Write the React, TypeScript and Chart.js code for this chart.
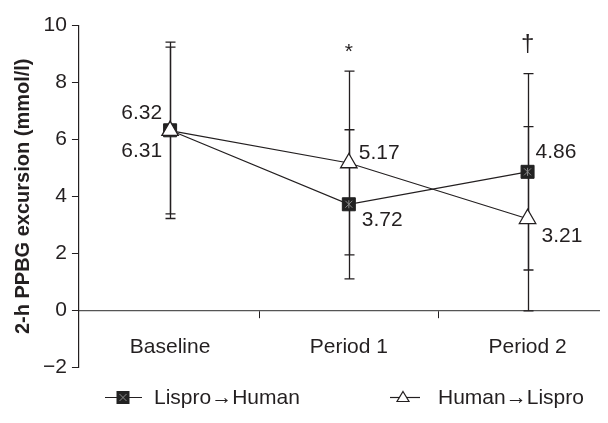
import React, { useEffect, useRef } from 'react';
import { Chart, registerables } from 'chart.js';

Chart.register(...registerables);

// ---- data ----
const categories = ['Baseline', 'Period 1', 'Period 2'];
const seriesNames = ['Lispro→Human', 'Human→Lispro'];
const lisproHumanMean = [6.32, 3.72, 4.86];
const lisproHumanSD = [3.1, 2.62, 3.45];
const humanLisproMean = [6.31, 5.17, 3.21];
const humanLisproSD = [2.93, 3.23, 3.24];
const significanceMarks = ['', '*', '†'];
const yTickValues = [-2, 0, 2, 4, 6, 8, 10];
const yTitle = '2-h PPBG excursion (mmol/l)';

// ---- style ----
const INK = '#231f20';
const FONT = '"Liberation Sans", Arial, Helvetica, sans-serif';
// label offsets [dx, dy, align] per series per category
const lisproLabelPos: [number, number, CanvasTextAlign][] = [[-8, -17, 'right'], [13, 16, 'left'], [8, -20, 'left']];
const humanLabelPos: [number, number, CanvasTextAlign][] = [[-8, 21, 'right'], [10, -10, 'left'], [14, 17, 'left']];
const markOffsets = [0, -13, -23];
const markSizes = [21, 21, 24];

const overlay = {
  id: 'overlay',
  beforeDatasetsDraw(chart: any) {
    const { ctx } = chart;
    const xs = chart.scales.x;
    const ys = chart.scales.y;
    ctx.save();
    ctx.strokeStyle = INK;
    ctx.lineWidth = 1.3;
    const series: [number[], number[]][] = [
      [lisproHumanMean, lisproHumanSD],
      [humanLisproMean, humanLisproSD],
    ];
    series.forEach(([m, s]) => {
      m.forEach((v, i) => {
        const px = Math.round(xs.getPixelForValue(i)) + 0.5;
        const top = ys.getPixelForValue(v + s[i]);
        const bot = ys.getPixelForValue(v - s[i]);
        ctx.beginPath();
        ctx.moveTo(px, top);
        ctx.lineTo(px, bot);
        ctx.moveTo(px - 5, top);
        ctx.lineTo(px + 5, top);
        ctx.moveTo(px - 5, bot);
        ctx.lineTo(px + 5, bot);
        ctx.stroke();
      });
    });
    ctx.restore();
  },
  afterDatasetDraw(chart: any, args: any) {
    // gray cross inside the black squares
    if (args.index !== 1) return;
    const { ctx } = chart;
    const meta = chart.getDatasetMeta(1);
    ctx.save();
    ctx.strokeStyle = '#8a8a8a';
    ctx.lineWidth = 1;
    meta.data.forEach((pt: any) => {
      const { x, y } = pt.getProps(['x', 'y'], true);
      ctx.beginPath();
      ctx.moveTo(x - 3.5, y - 3.5);
      ctx.lineTo(x + 3.5, y + 3.5);
      ctx.moveTo(x + 3.5, y - 3.5);
      ctx.lineTo(x - 3.5, y + 3.5);
      ctx.moveTo(x, y - 4);
      ctx.lineTo(x, y + 4);
      ctx.stroke();
    });
    ctx.restore();
  },
  afterDraw(chart: any) {
    const { ctx } = chart;
    const xs = chart.scales.x;
    const ys = chart.scales.y;
    ctx.save();
    ctx.fillStyle = INK;
    ctx.font = `21px ${FONT}`;
    ctx.textBaseline = 'middle';
    lisproHumanMean.forEach((v, i) => {
      const [dx, dy, al] = lisproLabelPos[i];
      ctx.textAlign = al;
      ctx.fillText(v.toFixed(2), xs.getPixelForValue(i) + dx, ys.getPixelForValue(v) + dy);
    });
    humanLisproMean.forEach((v, i) => {
      const [dx, dy, al] = humanLabelPos[i];
      ctx.textAlign = al;
      ctx.fillText(v.toFixed(2), xs.getPixelForValue(i) + dx, ys.getPixelForValue(v) + dy);
    });
    // significance marks above the highest error bar
    ctx.textAlign = 'center';
    ctx.textBaseline = 'alphabetic';
    significanceMarks.forEach((m, i) => {
      if (!m) return;
      ctx.font = `${markSizes[i]}px ${FONT}`;
      const topVal = Math.max(lisproHumanMean[i] + lisproHumanSD[i], humanLisproMean[i] + humanLisproSD[i]);
      ctx.fillText(m, xs.getPixelForValue(i), ys.getPixelForValue(topVal) + markOffsets[i]);
    });

    // legend
    ctx.font = `21px ${FONT}`;
    const ly = 389.5;
    ctx.strokeStyle = INK;
    ctx.lineWidth = 1.2;
    ctx.textAlign = 'left';
    ctx.textBaseline = 'middle';
    // series 1
    ctx.beginPath();
    ctx.moveTo(97, ly);
    ctx.lineTo(134, ly);
    ctx.stroke();
    ctx.fillStyle = '#222';
    ctx.fillRect(108.5, ly - 6.5, 13, 13);
    ctx.strokeStyle = '#8a8a8a';
    ctx.lineWidth = 1;
    ctx.beginPath();
    ctx.moveTo(111.5, ly - 3.5);
    ctx.lineTo(118.5, ly + 3.5);
    ctx.moveTo(118.5, ly - 3.5);
    ctx.lineTo(111.5, ly + 3.5);
    ctx.stroke();
    ctx.fillStyle = INK;
    ctx.fillText(seriesNames[0], 146, ly + 1);
    // series 2
    ctx.strokeStyle = INK;
    ctx.lineWidth = 1.2;
    ctx.beginPath();
    ctx.moveTo(382, ly);
    ctx.lineTo(412, ly);
    ctx.stroke();
    ctx.beginPath();
    ctx.moveTo(395, ly - 6);
    ctx.lineTo(401, ly + 4);
    ctx.lineTo(389, ly + 4);
    ctx.closePath();
    ctx.fillStyle = '#fff';
    ctx.fill();
    ctx.stroke();
    ctx.fillStyle = INK;
    ctx.fillText(seriesNames[1], 430, ly + 1);
    ctx.restore();
  },
};

export default function App() {
  const ref = useRef<HTMLCanvasElement>(null);
  useEffect(() => {
    if (!ref.current) return;
    const chart = new Chart(ref.current, {
      type: 'line',
      data: {
        datasets: [
          {
            label: seriesNames[1],
            data: humanLisproMean.map((v, i) => ({ x: i, y: v })),
            borderColor: INK,
            borderWidth: 1.2,
            pointStyle: 'triangle',
            pointRadius: 9.5,
            pointBackgroundColor: '#fff',
            pointBorderColor: INK,
            pointBorderWidth: 1.3,
          },
          {
            label: seriesNames[0],
            data: lisproHumanMean.map((v, i) => ({ x: i, y: v })),
            borderColor: INK,
            borderWidth: 1.2,
            pointStyle: 'rect',
            pointRadius: 9.2,
            pointBackgroundColor: '#222',
            pointBorderColor: '#222',
            pointBorderWidth: 1,
          },
        ],
      },
      options: {
        animation: false,
        responsive: true,
        maintainAspectRatio: false,
        layout: { autoPadding: false, padding: { top: 13, bottom: 48, left: 0, right: 0 } },
        plugins: { legend: { display: false }, tooltip: { enabled: false } },
        scales: {
          x: {
            type: 'linear',
            min: -0.51,
            max: 2.45,
            position: { y: 0 } as any,
            afterBuildTicks: (s: any) => {
              s.ticks = [0, 0.5, 1, 1.5, 2].map((v) => ({ value: v }));
            },
            afterFit: (s: any) => {
              s.paddingLeft = 0;
              s.paddingRight = 0;
            },
            ticks: {
              autoSkip: false,
              maxRotation: 0,
              padding: 18,
              color: INK,
              font: { family: FONT, size: 21 },
              callback: (v: any) => (Number.isInteger(v) ? categories[v] : ''),
            },
            grid: {
              drawOnChartArea: false,
              tickLength: 7,
              tickColor: (c: any) =>
                c.tick && !Number.isInteger(c.tick.value) ? INK : 'rgba(0,0,0,0)',
            },
            border: { color: '#555', width: 1.2 },
          },
          y: {
            min: -2,
            max: 10,
            afterBuildTicks: (s: any) => {
              s.ticks = yTickValues.map((v) => ({ value: v }));
            },
            ticks: {
              padding: 5,
              color: INK,
              font: { family: FONT, size: 21 },
              callback: (v: any) => (v < 0 ? '\u2212' + Math.abs(v) : String(v)),
            },
            grid: { drawOnChartArea: false, tickLength: 7, tickColor: INK },
            border: { color: INK, width: 1.2 },
            title: {
              display: true,
              text: yTitle,
              color: INK,
              font: { family: FONT, size: 20, weight: 'bold' },
              padding: { top: 3, bottom: 3 },
            },
          },
        },
      },
      plugins: [overlay],
    });
    return () => chart.destroy();
  }, []);
  return (
    <div style={{ width: 600, height: 407, position: 'relative' }}>
      <canvas ref={ref} />
    </div>
  );
}
